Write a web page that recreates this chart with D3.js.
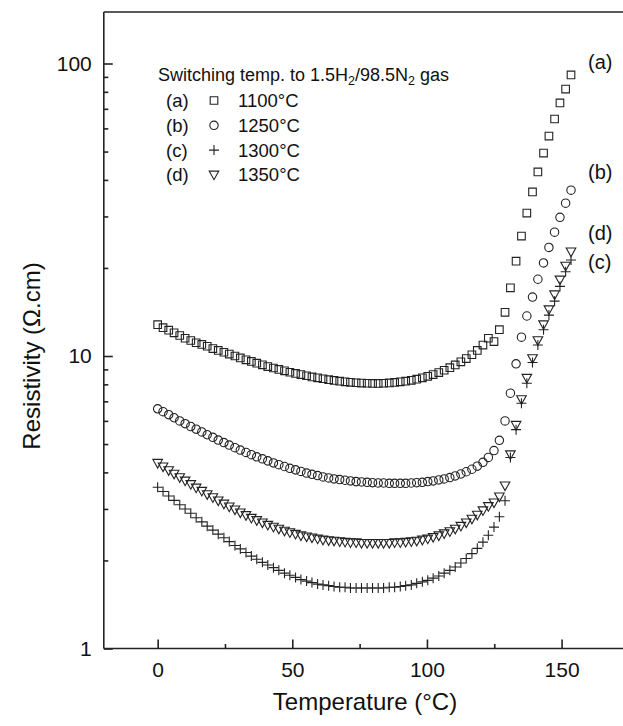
<!DOCTYPE html>
<html><head><meta charset="utf-8">
<script src="https://cdn.jsdelivr.net/npm/d3@7"></script>
<style>body{margin:0;background:#fff}svg{display:block}text{font-family:Arial,"Liberation Sans",Helvetica,sans-serif;fill:#111}</style>
</head><body><svg id="c" width="623" height="726"></svg>
<script>
const temperature = [0,2.0,4.1,6.1,8.2,10.2,12.3,14.3,16.4,18.4,20.5,22.5,24.6,26.6,28.7,30.7,32.8,34.8,36.8,38.9,40.9,43.0,45.0,47.1,49.1,51.2,53.2,55.3,57.3,59.4,61.4,63.5,65.5,67.6,69.6,71.6,73.7,75.7,77.8,79.8,81.9,83.9,86.0,88.0,90.1,92.1,94.2,96.2,98.3,100.3,102.3,104.4,106.4,108.5,110.5,112.6,114.6,116.7,118.7,120.8,122.8,124.9,126.9,129.0,131.0,133.1,135.1,137.1,139.2,141.2,143.3,145.3,147.4,149.4,151.5,153.5];
const seriesA = [12.8,12.5,12.25,12.0,11.75,11.5,11.3,11.1,10.95,10.8,10.6,10.45,10.3,10.15,10.0,9.85,9.7,9.58,9.45,9.33,9.2,9.1,9.0,8.9,8.8,8.72,8.64,8.56,8.48,8.42,8.36,8.3,8.25,8.2,8.16,8.13,8.1,8.08,8.07,8.06,8.06,8.07,8.09,8.12,8.16,8.2,8.26,8.33,8.42,8.52,8.64,8.78,8.94,9.12,9.32,9.55,9.8,10.1,10.45,10.9,11.5,11.2,12.3,14.1,17.1,21.1,25.7,30.8,36.4,42.6,49.4,56.5,64.6,73.3,81.8,91.4];
const seriesB = [6.6,6.45,6.3,6.15,6.0,5.87,5.74,5.62,5.5,5.38,5.27,5.16,5.06,4.96,4.86,4.77,4.68,4.6,4.52,4.45,4.38,4.31,4.25,4.19,4.13,4.08,4.03,3.98,3.94,3.9,3.86,3.83,3.8,3.78,3.76,3.74,3.72,3.71,3.7,3.69,3.68,3.68,3.67,3.67,3.67,3.67,3.68,3.69,3.7,3.72,3.74,3.77,3.8,3.84,3.89,3.95,4.02,4.1,4.2,4.33,4.5,4.75,5.15,6.0,7.46,9.4,11.6,13.7,15.9,18.3,20.8,23.5,26.5,29.8,33.3,36.9];
const seriesC = [3.56,3.44,3.32,3.21,3.1,3.0,2.9,2.8,2.71,2.62,2.54,2.46,2.39,2.32,2.25,2.19,2.13,2.07,2.02,1.97,1.93,1.89,1.85,1.81,1.78,1.75,1.72,1.7,1.68,1.66,1.65,1.64,1.63,1.62,1.62,1.61,1.61,1.61,1.61,1.61,1.61,1.61,1.62,1.62,1.63,1.64,1.65,1.67,1.69,1.71,1.74,1.77,1.81,1.85,1.9,1.96,2.03,2.11,2.2,2.31,2.44,2.6,2.82,3.2,4.5,5.6,6.89,8.07,9.5,10.9,12.3,13.8,15.4,17.3,19.4,21.3];
const seriesD = [4.3,4.18,4.06,3.95,3.84,3.74,3.64,3.54,3.45,3.36,3.28,3.2,3.12,3.05,2.98,2.91,2.85,2.79,2.74,2.69,2.64,2.6,2.56,2.52,2.49,2.46,2.43,2.41,2.39,2.37,2.35,2.34,2.33,2.32,2.31,2.3,2.3,2.29,2.29,2.29,2.29,2.29,2.29,2.3,2.3,2.31,2.32,2.33,2.35,2.37,2.4,2.43,2.47,2.51,2.56,2.62,2.69,2.77,2.86,2.96,3.06,3.15,3.3,3.6,4.6,5.8,7.1,8.4,9.8,11.3,12.8,14.4,16.2,18.2,20.3,22.7];
const seriesKeys = ["(a)","(b)","(c)","(d)"];
const seriesTemps = ["1100°C","1250°C","1300°C","1350°C"];
const seriesShapes = ["square","circle","plus","triangle"];
const xTicks = [0,50,100,150];
const xMinorTicks = [25,75,125];
const yTicks = [1,10,100];
const yMinorTicks = [2,3,4,5,6,7,8,9,20,30,40,50,60,70,80,90];

const svg = d3.select("#c");
const x = d3.scaleLinear().domain([-20,175]).range([103.8,628.9]);
const y = d3.scaleLog().domain([1,150]).range([648.5,12]);
const ink = "#222";

// frame (left, bottom, top)
svg.append("line").attr("x1",x(-20)).attr("x2",x(-20)).attr("y1",y(150)).attr("y2",y(1)).attr("stroke",ink).attr("stroke-width",1.6);
svg.append("line").attr("x1",x(-20)).attr("x2",x(175)).attr("y1",y(1)).attr("y2",y(1)).attr("stroke",ink).attr("stroke-width",1.6);
svg.append("line").attr("x1",x(-20)).attr("x2",x(175)).attr("y1",y(150)).attr("y2",y(150)).attr("stroke",ink).attr("stroke-width",1.6);

// x axis
const xAxis = d3.axisBottom(x).tickValues(xTicks).tickSize(-9).tickPadding(14).tickFormat(d3.format("d"));
const gx = svg.append("g").attr("transform",`translate(0,${y(1)})`).call(xAxis);
gx.select(".domain").remove();
gx.selectAll(".tick line").attr("stroke",ink).attr("stroke-width",1.6);
gx.selectAll(".tick text").attr("font-size",21).attr("fill","#111").attr("font-family","Arial, 'Liberation Sans', sans-serif");
const gxm = svg.append("g").attr("transform",`translate(0,${y(1)})`).call(d3.axisBottom(x).tickValues(xMinorTicks).tickSize(-4.5).tickFormat(""));
gxm.select(".domain").remove();
gxm.selectAll(".tick line").attr("stroke",ink).attr("stroke-width",1.6);

// y axis
const yAxis = d3.axisLeft(y).tickValues(yTicks).tickSize(-9).tickPadding(12).tickFormat(d3.format("d"));
const gy = svg.append("g").attr("transform",`translate(${x(-20)},0)`).call(yAxis);
gy.select(".domain").remove();
gy.selectAll(".tick line").attr("stroke",ink).attr("stroke-width",1.6);
gy.selectAll(".tick text").attr("font-size",21).attr("fill","#111").attr("font-family","Arial, 'Liberation Sans', sans-serif");
const gym = svg.append("g").attr("transform",`translate(${x(-20)},0)`).call(d3.axisLeft(y).tickValues(yMinorTicks).tickSize(-4.5).tickFormat(""));
gym.select(".domain").remove();
gym.selectAll(".tick line").attr("stroke",ink).attr("stroke-width",1.6);

// axis titles
svg.append("text").attr("x",365).attr("y",710).attr("text-anchor","middle").attr("font-size",24).text("Temperature (°C)");
svg.append("text").attr("transform","translate(40,356) rotate(-90)").attr("text-anchor","middle").attr("font-size",24).text("Resistivity (Ω.cm)");

// markers
function drawMarker(g, shape, cx, cy){
  const s = g.append("path").attr("fill","none").attr("stroke",ink).attr("stroke-width",1.1);
  let d;
  if(shape==="square"){ d=`M${cx-3.8},${cy-3.8}h7.6v7.6h-7.6Z`; }
  else if(shape==="circle"){ d=`M${cx-4.2},${cy}a4.2,4.2 0 1,0 8.4,0a4.2,4.2 0 1,0 -8.4,0Z`; }
  else if(shape==="plus"){ d=`M${cx-5},${cy}h10M${cx},${cy-5}v10`; }
  else { d=`M${cx-4.8},${cy-3.8}h9.6L${cx},${cy+4.8}Z`; }
  s.attr("d",d);
}
const allSeries = [seriesA,seriesB,seriesC,seriesD];
allSeries.forEach((vals,i)=>{
  const g = svg.append("g");
  vals.forEach((v,j)=>drawMarker(g, seriesShapes[i], x(temperature[j]), y(v)));
});

// legend
const lg = svg.append("g");
const title = lg.append("text").attr("x",158).attr("y",81).attr("font-size",18);
title.append("tspan").text("Switching temp. to 1.5H");
title.append("tspan").attr("font-size",12.5).attr("dy",4).text("2");
title.append("tspan").attr("dy",-4).text("/98.5N");
title.append("tspan").attr("font-size",12.5).attr("dy",4).text("2");
title.append("tspan").attr("dy",-4).text(" gas");
seriesKeys.forEach((k,i)=>{
  const yy = 107 + i*24.8;
  lg.append("text").attr("x",166).attr("y",yy).attr("font-size",18.5).text(k);
  drawMarker(lg, seriesShapes[i], 214, yy-6.5);
  lg.append("text").attr("x",238).attr("y",yy).attr("font-size",18.5).text(seriesTemps[i]);
});

// right-side labels at series ends
const endLabelY = [62,172,262,233];
seriesKeys.forEach((k,i)=>{
  svg.append("text").attr("x",588).attr("y",endLabelY[i]+7).attr("font-size",20).text(k);
});
</script></body></html>
